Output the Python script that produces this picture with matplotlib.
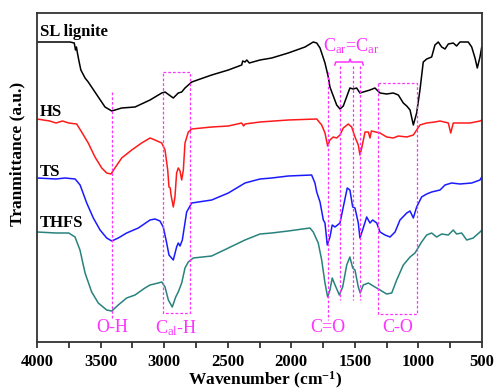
import matplotlib.pyplot as plt
import numpy as np

plt.rcParams['font.family'] = ['Liberation Serif', 'DejaVu Serif']
plt.rcParams['mathtext.fontset'] = 'custom'
plt.rcParams['mathtext.rm'] = 'Liberation Serif'
plt.rcParams['mathtext.it'] = 'Liberation Serif:italic'
plt.rcParams['mathtext.bf'] = 'Liberation Serif:bold'

# spectra (wavenumber, transmittance in a.u.)
sl_wn = [4000, 3740, 3707, 3697, 3690, 3682, 3670, 3655, 3622, 3597, 3518, 3465, 3412, 3334, 3229,
         3111, 3019, 2993, 2928, 2889, 2862, 2836, 2783, 2626, 2495, 2390, 2382, 2364, 2350,
         2330, 2246, 2154, 2024, 1892, 1827, 1800, 1774, 1735, 1709, 1696, 1658, 1643, 1617,
         1591, 1565, 1539, 1513, 1486, 1460, 1434, 1381, 1342, 1302, 1250, 1198, 1158, 1119,
         1092, 1066, 1040, 1014, 988, 962, 935, 896, 870, 844, 817, 791, 765, 726, 700, 673,
         608, 581, 555, 537, 516, 502]
sl_t = [300, 300, 299, 292, 295, 289, 281, 272, 264, 260, 245, 235, 231, 234, 235,
        242, 249, 250, 244, 249, 250, 254, 260, 267, 272, 277, 281, 280, 282,
        279, 282, 284, 289, 295, 300, 299, 294, 279, 265, 255, 242, 237, 233,
        236, 245, 254, 253, 254, 249, 250, 252, 254, 249, 248, 249, 247, 239,
        236, 232, 217, 229, 252, 280, 283, 285, 297, 300, 295, 293, 298, 299, 296, 300,
        300, 295, 284, 274, 285, 295]

hs_wn = [4000, 3950, 3900, 3850, 3800, 3750, 3688, 3649, 3597, 3544, 3491, 3452, 3418, 3387,
         3334, 3255, 3177, 3111, 3072, 3019, 2993, 2972, 2962, 2952, 2946, 2928, 2915, 2902,
         2889, 2875, 2862, 2849, 2836, 2810, 2783, 2626, 2495, 2390, 2375, 2364, 2246, 2024,
         1800, 1761, 1735, 1714, 1696, 1670, 1643, 1617, 1591, 1552, 1525, 1499, 1473, 1460,
         1446, 1420, 1394, 1381, 1370, 1302, 1250, 1198, 1158, 1092, 1040, 1014, 988, 935,
         870, 830, 765, 746, 726, 673, 594, 516, 500]
hs_t = [223, 222, 221, 219, 221, 219, 218, 210, 199, 185, 174, 169, 168, 174,
        184, 192, 199, 204, 202, 199, 192, 172, 155, 154, 147, 135, 145, 169,
        174, 171, 162, 172, 199, 210, 213, 215, 216, 219, 216, 218, 220, 222,
        223, 217, 209, 196, 202, 205, 204, 207, 214, 218, 215, 205, 197, 187,
        194, 210, 210, 204, 211, 209, 205, 204, 206, 205, 207, 212, 217, 219,
        220, 221, 219, 209, 219, 219, 219, 221, 222]

ts_wn = [4000, 3850, 3780, 3700, 3661, 3609, 3557, 3504, 3452, 3412, 3361, 3295, 3203, 3111,
         3072, 3033, 3007, 2980, 2962, 2928, 2902, 2889, 2875, 2857, 2823, 2783, 2731, 2626,
         2495, 2364, 2246, 2154, 2024, 1840, 1814, 1800, 1774, 1748, 1735, 1717, 1696, 1678,
         1656, 1617, 1591, 1560, 1539, 1517, 1499, 1473, 1460, 1439, 1407, 1381, 1360, 1328,
         1302, 1263, 1223, 1184, 1145, 1092, 1066, 1040, 1014, 975, 935, 896, 830, 791, 739,
         673, 581, 516, 502]
ts_t = [164, 163, 164, 163, 157, 139, 124, 112, 104, 101, 104, 109, 114, 122,
        123, 121, 115, 99, 87, 82, 95, 99, 96, 102, 130, 139, 140, 142,
        149, 159, 163, 164, 166, 167, 159, 150, 140, 122, 119, 97, 105, 117,
        115, 119, 135, 154, 152, 135, 134, 119, 104, 112, 125, 119, 122, 119,
        110, 107, 105, 110, 122, 129, 131, 124, 135, 145, 148, 150, 152, 157, 159,
        158, 159, 162, 165]

thfs_wn = [4000, 3850, 3750, 3701, 3662, 3622, 3570, 3518, 3452, 3412, 3361, 3295, 3229, 3151,
           3111, 3046, 3019, 2993, 2967, 2936, 2909, 2889, 2862, 2836, 2810, 2771, 2626, 2495,
           2364, 2246, 2154, 2024, 1853, 1827, 1788, 1761, 1735, 1714, 1696, 1678, 1656, 1622,
           1596, 1564, 1539, 1517, 1499, 1473, 1458, 1434, 1394, 1355, 1302, 1250, 1210, 1171,
           1119, 1066, 1027, 975, 935, 896, 857, 817, 765, 726, 700, 660, 620, 569, 516, 500]
thfs_t = [110, 109, 109, 105, 92, 69, 50, 39, 32, 31, 37, 44, 47, 54,
          57, 59, 60, 55, 42, 35, 45, 50, 59, 74, 80, 84, 86, 94,
          102, 108, 109, 111, 114, 110, 99, 82, 59, 45, 52, 64, 57, 47,
          55, 77, 85, 74, 72, 55, 49, 57, 59, 56, 52, 48, 49, 62,
          77, 85, 89, 100, 107, 109, 105, 108, 107, 112, 108, 109, 102, 104, 110, 112]

series = [('SL lignite', sl_wn, sl_t, 'black', 310),
          ('HS', hs_wn, hs_t, '#ff1a1a', 230),
          ('TS', ts_wn, ts_t, '#1a1aff', 170),
          ('THFS', thfs_wn, thfs_t, '#28827d', 119)]

# band marks: wavenumber positions of dashed guides
oh_wn = 3412
co_wn = 1712
car_wn = [1620, 1515, 1460]
cal_box = (3010, 2800)
cO_box = (1316, 1012)

magenta = '#ff33ff'
dash = (0, (2.2, 1.6))

fig = plt.figure(figsize=(4.95, 3.9), dpi=100)
ax = fig.add_axes([37 / 495, 48 / 390, 445 / 495, 329 / 390])

for name, wn, t, c, ylab in series:
    ax.plot(wn, t, color=c, lw=1.1)
    ax.text(3980, ylab, name, fontsize=12, fontweight='bold', ha='left', va='center')

# dashed guides
ax.plot([oh_wn, oh_wn], [250, 22], color=magenta, lw=0.9, ls=dash)
ax.plot([co_wn, co_wn], [270, 22], color=magenta, lw=0.9, ls=dash)
for w in car_wn:
    ax.plot([w, w], [276, 42], color=magenta, lw=0.9, ls=dash)
for (x0, x1), (y0, y1) in [(cal_box, (270, 29)), (cO_box, (259, 28))]:
    ax.plot([x0, x1, x1, x0, x0], [y0, y0, y1, y1, y0], color=magenta, lw=0.9, ls=dash)

# brace over the aromatic bands
ax.plot([1658, 1650, 1546, 1538, 1530, 1442, 1434],
        [277, 280, 280, 283, 280, 280, 277], color=magenta, lw=1.1)

ax.text(1530, 296, r'C$_{\rm ar}$=C$_{\rm ar}$', color=magenta, fontsize=13, ha='center', va='center')
ax.text(oh_wn, 14, 'O-H', color=magenta, fontsize=13, ha='center', va='center')
ax.text(2905, 14, r'C$_{\rm al}$-H', color=magenta, fontsize=13, ha='center', va='center')
ax.text(co_wn, 14, 'C=O', color=magenta, fontsize=13, ha='center', va='center')
ax.text(1160, 14, 'C-O', color=magenta, fontsize=13, ha='center', va='center')

ax.set_xlim(4000, 500)
ax.set_ylim(0, 329)
ax.set_xticks([4000, 3500, 3000, 2500, 2000, 1500, 1000, 500])
ax.set_xticks(np.arange(750, 4000, 500), minor=True)
ax.set_yticks([])
ax.tick_params(axis='x', which='both', direction='out', length=4, width=1.2, pad=5,
               labelsize=12, colors='#222222')
for lab in ax.get_xticklabels():
    lab.set_fontweight('bold')
    lab.set_color('black')
for s in ax.spines.values():
    s.set_linewidth(1.3)
    s.set_color('#333333')

ax.set_xlabel('Wavenumber (cm$^{\\mathbf{-1}}$)', fontsize=12.5, fontweight='bold', va='center')
ax.xaxis.set_label_coords(0.512, -0.118)
ax.set_ylabel('Tranmittance (a.u.)', fontsize=12.5, fontweight='bold', va='center')
ax.yaxis.set_label_coords(-0.043, 0.571)

fig.savefig('out.png', dpi=100)
